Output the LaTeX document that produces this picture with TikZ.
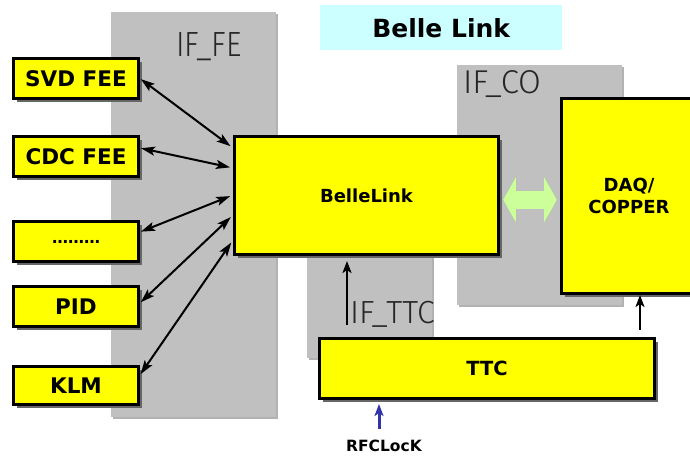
\documentclass[tikz,border=0pt]{standalone}
\usepackage{fontspec}
\setmainfont{DejaVu Sans}
\newfontfamily\thinfont{Fira Sans Light}
\usetikzlibrary{shadows,arrows.meta,calc}
\definecolor{regiongray}{RGB}{192,192,192}
\definecolor{titlecyan}{RGB}{204,255,255}
\definecolor{linkgreen}{RGB}{204,255,153}
\definecolor{clockblue}{RGB}{51,51,170}
\definecolor{boxyellow}{RGB}{255,255,0}
\begin{document}
\begin{tikzpicture}[x=1pt,y=-1pt,
  region/.style={fill=regiongray, draw=none, inner sep=0pt, anchor=north west,
    drop shadow={shadow xshift=2pt, shadow yshift=-2pt, fill=black!30, opacity=1}},
  regionlabel/.style={inner sep=0pt, text=black!85},
  ybox/.style={draw=black, line width=3pt, fill=boxyellow, inner sep=0pt, anchor=north west,
    drop shadow={shadow xshift=3pt, shadow yshift=-3pt, fill=black!60, opacity=1},
    align=center},
  fe/.style={ybox, minimum width=125pt, minimum height=40pt, font=\bfseries\fontsize{21.5}{24}\selectfont},
  fearrow/.style={{Stealth[length=14pt,width=9pt,inset=3pt]}-{Stealth[length=14pt,width=9pt,inset=3pt]}, line width=2pt, shorten >=3pt, shorten <=1pt},
  uparrow/.style={-{Stealth[length=12pt,width=9pt,inset=3pt]}, line width=2.2pt}
]
\useasboundingbox (0,0) rectangle (690,456);
% gray interface regions
\node[region, minimum width=165pt, minimum height=405pt] (iffe) at (111,12) {};
\node[region, minimum width=165pt, minimum height=240pt] (ifco) at (457,65) {};
\node[region, minimum width=125pt, minimum height=160pt] (ifttc) at (307,198) {};
\node[regionlabel, font=\thinfont\fontsize{35}{40}\selectfont] (lfe) at (209,47) {\scalebox{0.86}[1]{IF\_FE}};
\node[regionlabel, font=\thinfont\fontsize{33}{40}\selectfont] (lco) at (502,84) {IF\_CO};
\node[regionlabel, font=\thinfont\fontsize{32}{40}\selectfont, anchor=west] (lttc) at (350,314) {IF\_TTC};
% title
\node[fill=titlecyan, minimum width=242pt, minimum height=45pt, inner sep=0pt, anchor=north west,
  font=\bfseries\fontsize{25}{30}\selectfont] (title) at (320,5) {Belle Link};
% front-end boxes
\node[fe] (svd) at (12,57) {SVD FEE};
\node[fe] (cdc) at (12,135) {CDC FEE};
\node[fe, font=\bfseries\fontsize{16}{18}\selectfont] (dots) at (12,220) {\raisebox{-4pt}{………}};
\node[fe] (pid) at (12,285) {PID};
\node[fe, minimum height=38pt] (klm) at (12,365) {KLM};
% main boxes
\node[ybox, minimum width=264pt, minimum height=118pt, font=\bfseries\fontsize{18}{22}\selectfont] (bl) at (233,135) {BelleLink};
\node[ybox, minimum width=135pt, minimum height=195pt, font=\bfseries\fontsize{18}{22}\selectfont] (daq) at (560,97) {DAQ/\\COPPER};
\node[ybox, minimum width=335pt, minimum height=60pt, font=\bfseries\fontsize{19.5}{22}\selectfont] (ttc) at (318,337) {TTC};
\node[inner sep=0pt, font=\bfseries\fontsize{15.5}{18}\selectfont] (rf) at (384,446) {RFCLocK};
% front-end connectors
\draw[fearrow] (svd.east) -- (bl.west |- 0,148);
\draw[fearrow] (cdc.east |- 0,148) -- (bl.west |- 0,168);
\draw[fearrow] (dots.east |- 0,232) -- (bl.west |- 0,195);
\draw[fearrow] (pid.east |- 0,303) -- (bl.west |- 0,215);
\draw[fearrow] (klm.east |- 0,375) -- (bl.west |- 0,240);
% green double arrow between BelleLink and DAQ
\coordinate (gc) at ($(bl.east)!0.5!(daq.west) + (0,4)$);
\fill[black!45, shift={(3,3)}] ($(gc)+(-27,0)$) -- ($(gc)+(-14,-23)$) -- ($(gc)+(-14,-9)$) -- ($(gc)+(14,-9)$) -- ($(gc)+(14,-23)$) -- ($(gc)+(27,0)$) -- ($(gc)+(14,23)$) -- ($(gc)+(14,9)$) -- ($(gc)+(-14,9)$) -- ($(gc)+(-14,23)$) -- cycle;
\fill[linkgreen] ($(gc)+(-27,0)$) -- ($(gc)+(-14,-23)$) -- ($(gc)+(-14,-9)$) -- ($(gc)+(14,-9)$) -- ($(gc)+(14,-23)$) -- ($(gc)+(27,0)$) -- ($(gc)+(14,23)$) -- ($(gc)+(14,9)$) -- ($(gc)+(-14,9)$) -- ($(gc)+(-14,23)$) -- cycle;
% timing connectors
\draw[uparrow] ($(ttc.north west)+(29,-12)$) -- ($(bl.south west)+(114,5)$);
\draw[uparrow] ($(ttc.north west)+(322,-7)$) -- (daq.south -| 640,0);
\draw[uparrow, draw=clockblue, fill=clockblue, line width=3pt] ($(rf.north)+(-5,-11)$) -- ($(ttc.south west)+(61,4)$);
\end{tikzpicture}
\end{document}
